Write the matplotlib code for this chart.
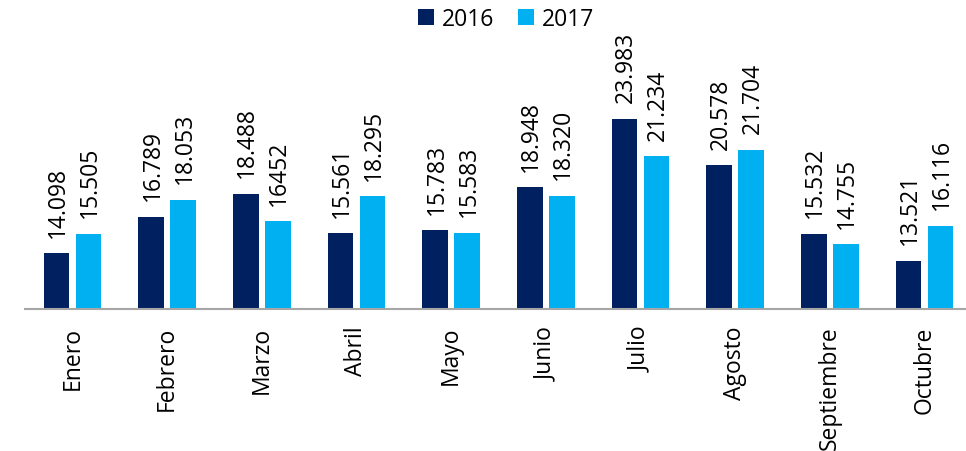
import matplotlib
matplotlib.use("Agg")
import matplotlib.pyplot as plt
import numpy as np

months = ["Enero", "Febrero", "Marzo", "Abril", "Mayo", "Junio", "Julio",
          "Agosto", "Septiembre", "Octubre"]
v2016 = [14098, 16789, 18488, 15561, 15783, 18948, 23983, 20578, 15532, 13521]
v2017 = [15505, 18053, 16452, 18295, 15583, 18320, 21234, 21704, 14755, 16116]
lab2016 = ["14.098", "16.789", "18.488", "15.561", "15.783", "18.948", "23.983",
           "20.578", "15.532", "13.521"]
lab2017 = ["15.505", "18.053", "16452", "18.295", "15.583", "18.320", "21.234",
           "21.704", "14.755", "16.116"]

c2016 = "#002060"
c2017 = "#00B0F0"

plt.rcParams['font.family'] = ['Open Sans', 'DejaVu Sans']
FS = 16.5

fig = plt.figure(figsize=(9.66, 4.52), dpi=100)
ax = fig.add_axes([0.0259, 0.31416, 0.9803, 0.68584])

x = np.arange(len(months))
w = 0.27
off = 0.169
b1 = ax.bar(x - off, v2016, width=w, color=c2016, label="2016", bottom=0)
b2 = ax.bar(x + off, v2017, width=w, color=c2017, label="2017", bottom=0)

ax.set_ylim(10000, 32800)
ax.set_xlim(-0.5, 9.5)

for xi, v, t in zip(x - off, v2016, lab2016):
    ax.annotate(t, (xi, v), xytext=(1, 12), textcoords="offset points",
                rotation=90, ha="center", va="bottom", fontsize=FS, color="#000000")
for xi, v, t in zip(x + off, v2017, lab2017):
    ax.annotate(t, (xi, v), xytext=(1, 12), textcoords="offset points",
                rotation=90, ha="center", va="bottom", fontsize=FS, color="#000000")

ax.set_xticks(x)
ax.set_xticklabels(months, rotation=90, fontsize=FS)
ax.tick_params(axis="x", length=0, pad=12)
ax.set_yticks([])
for s in ["left", "right", "top"]:
    ax.spines[s].set_visible(False)
ax.spines["bottom"].set_color("#a6a6a6")
ax.spines["bottom"].set_linewidth(1.5)

fig.legend(handles=[b1, b2], labels=["2016", "2017"], loc="center",
           bbox_to_anchor=(506 / 966, 1 - 20 / 452), ncol=2, frameon=False,
           fontsize=FS, handlelength=0.7, handleheight=0.7, handletextpad=0.35,
           columnspacing=1.0, borderaxespad=0)

fig.savefig("out.png", dpi=100)
